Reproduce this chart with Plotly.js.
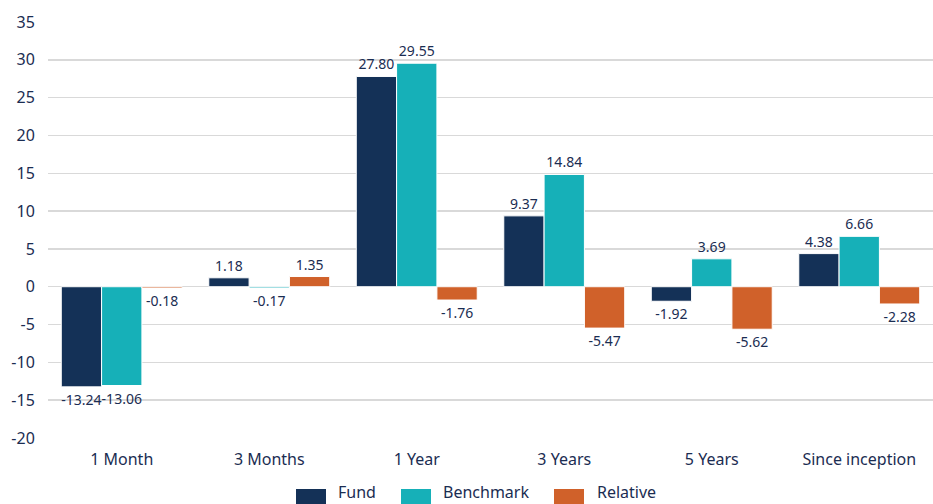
<!DOCTYPE html>
<html>
<head>
<meta charset="utf-8">
<script src="https://cdn.plot.ly/plotly-3.0.1.min.js"></script>
<style>html,body{margin:0;padding:0;background:#fff;}#chart{width:933px;height:504px;}</style>
</head>
<body>
<div id="chart"></div>
<script>
const categories = ["1 Month", "3 Months", "1 Year", "3 Years", "5 Years", "Since inception"];
const fund = [-13.24, 1.18, 27.80, 9.37, -1.92, 4.38];
const benchmark = [-13.06, -0.17, 29.55, 14.84, 3.69, 6.66];
const relative = [-0.18, 1.35, -1.76, -5.47, -5.62, -2.28];
const seriesNames = ["Fund", "Benchmark", "Relative"];
const yTickVals = [-20, -15, -10, -5, 0, 5, 10, 15, 20, 25, 30, 35];
const yTickText = ["-20", "-15", "-10", "-5", "0", "5", "10", "15", "20", "25", "30", "35"];
const colors = ["#143157", "#16b0b8", "#d0612a"];
const textColor = "#1b2d52";
const fontFam = "Noto Sans, Open Sans, sans-serif";

const W = 933, H = 504;
const M = {l: 48, r: 0, t: 22, b: 66};
const pw = W - M.l - M.r, ph = H - M.t - M.b;
const px2x = p => (p - M.l) / pw;
const py2y = p => (H - M.b - p) / ph;

const data = [fund, benchmark, relative].map((vals, i) => ({
  type: "bar",
  name: seriesNames[i],
  x: categories,
  y: vals,
  text: vals.map(v => v.toFixed(2)),
  textposition: "outside",
  cliponaxis: false,
  constraintext: "none",
  textfont: {family: fontFam, size: 14, color: textColor},
  marker: {color: colors[i], line: {color: "#ffffff", width: 1}},
  hoverinfo: "none",
  showlegend: false
}));

// custom legend (large swatches)
const legendItems = [
  {x0: 296, x1: 326, tx: 336},
  {x0: 401, x1: 431, tx: 441},
  {x0: 554, x1: 584, tx: 595}
];
const shapes = legendItems.map((it, i) => ({
  type: "rect", xref: "paper", yref: "paper",
  x0: px2x(it.x0), x1: px2x(it.x1), y0: py2y(505), y1: py2y(489),
  fillcolor: colors[i], line: {width: 0}
}));
const annotations = legendItems.map((it, i) => ({
  xref: "paper", yref: "paper", x: px2x(it.tx), y: py2y(492),
  xanchor: "left", yanchor: "middle", showarrow: false,
  text: seriesNames[i],
  font: {family: fontFam, size: 16, color: textColor}
}));

const layout = {
  width: W, height: H,
  margin: M,
  paper_bgcolor: "#ffffff", plot_bgcolor: "#ffffff",
  font: {family: fontFam, color: textColor},
  barmode: "group",
  bargap: 0.18,
  bargroupgap: 0,
  showlegend: false,
  xaxis: {
    type: "category",
    showgrid: false, zeroline: false, showline: false,
    ticks: "outside", ticklen: 7, tickcolor: "rgba(0,0,0,0)",
    tickfont: {family: fontFam, size: 16, color: textColor},
    fixedrange: true
  },
  yaxis: {
    range: [-20, 35],
    tickmode: "array", tickvals: yTickVals, ticktext: yTickText,
    showgrid: true, gridcolor: "#d9d9d9", gridwidth: 1.5,
    zeroline: true, zerolinecolor: "#d9d9d9", zerolinewidth: 1.5,
    showline: false,
    ticks: "outside", ticklen: 9, tickcolor: "rgba(0,0,0,0)",
    tickfont: {family: fontFam, size: 16, color: textColor},
    fixedrange: true
  },
  shapes: shapes,
  annotations: annotations
};

Plotly.newPlot("chart", data, layout, {displayModeBar: false, staticPlot: true});
</script>
</body>
</html>
